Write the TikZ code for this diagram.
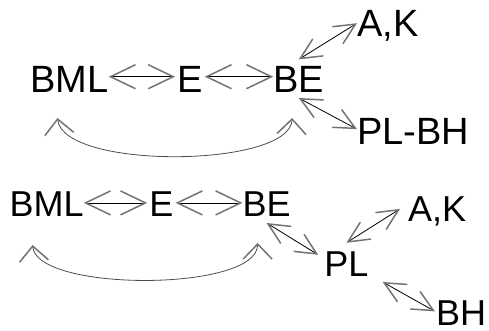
\documentclass[tikz,border=0pt]{standalone}
\usepackage{fontspec}
\setmainfont{Liberation Sans}
\usetikzlibrary{arrows.meta,calc}
\tikzset{
  hbarb/.tip={Straight Barb[length=25pt,width=24pt,color=black!55,line width=1.5pt]},
  dbarb/.tip={Straight Barb[length=21pt,width=20pt,color=black!55,line width=1.5pt]},
  cbarb/.tip={Straight Barb[length=15pt,width=29pt,color=black!55,line width=1.5pt]},
}
\begin{document}
\begin{tikzpicture}[x=1pt,y=-1pt,
  lbl/.style={inner sep=0pt,anchor=south west,text depth=0pt},
  bigtxt/.style={lbl,font=\fontsize{38}{42}\selectfont,text height=27.2pt},
  smalltxt/.style={lbl,font=\fontsize{36}{40}\selectfont,text height=25.8pt},
  hlink/.style={hbarb-hbarb,line width=0.8pt,black},
  dlink/.style={dbarb-dbarb,line width=0.8pt,black},
  loop/.style={cbarb-cbarb,line width=0.8pt,black!70}]
\useasboundingbox (0,0) rectangle (489,331);

% upper chain
\node[bigtxt] (bml1) at (30.2,93) {BML};
\node[bigtxt] (e1)   at (177,93)  {E};
\node[bigtxt] (be1)  at (273.2,93) {BE};
\node[bigtxt] (ak1)  at (357,37)  {A,K};
\node[bigtxt] (plbh) at (357,145) {PL-BH};

\draw[hlink] ([yshift=2.5pt]bml1.east) -- ([xshift=-2pt,yshift=2.5pt]e1.west);
\draw[hlink] ([xshift=2pt,yshift=2.5pt]e1.east) -- ([yshift=2.5pt]be1.west);
\draw[dlink] ([yshift=6pt]be1.north) -- (ak1.west);
\draw[dlink] ([yshift=-5pt]be1.south) -- ([yshift=2pt]plbh.west);
\draw[loop] ($(bml1.south)+(-12,25)$) .. controls +(6,52) and +(-2,50) .. ($(be1.south)+(-6.6,25)$);

% lower chain
\node[smalltxt] (bml2) at (9.4,217)   {BML};
\node[smalltxt] (e2)   at (149.2,217) {E};
\node[smalltxt] (be2)  at (242.4,217) {BE};
\node[smalltxt] (pl)   at (324.2,277) {PL};
\node[smalltxt] (ak2)  at (408,222)   {A,K};
\node[smalltxt] (bh)   at (436,325.5) {BH};

\draw[hlink] ([yshift=1pt]bml2.east) -- ([xshift=-2pt,yshift=1pt]e2.west);
\draw[hlink] ([xshift=2pt,yshift=1pt]e2.east) -- ([yshift=1pt]be2.west);
\draw[dlink] ([yshift=-6pt]be2.south) -- ($(pl.north west)+(-6,4)$);
\draw[dlink] ([yshift=8pt]pl.north) -- ([xshift=-8pt]ak2.west);
\draw[dlink] ($(pl.south east)+(14,5)$) -- ($(bh.west)+(-1,-1)$);
\draw[loop] ($(bml2.south)+(-14,28)$) .. controls +(4,47) and +(0,49) .. ($(be2.south)+(-9,26)$);
\end{tikzpicture}
\end{document}
